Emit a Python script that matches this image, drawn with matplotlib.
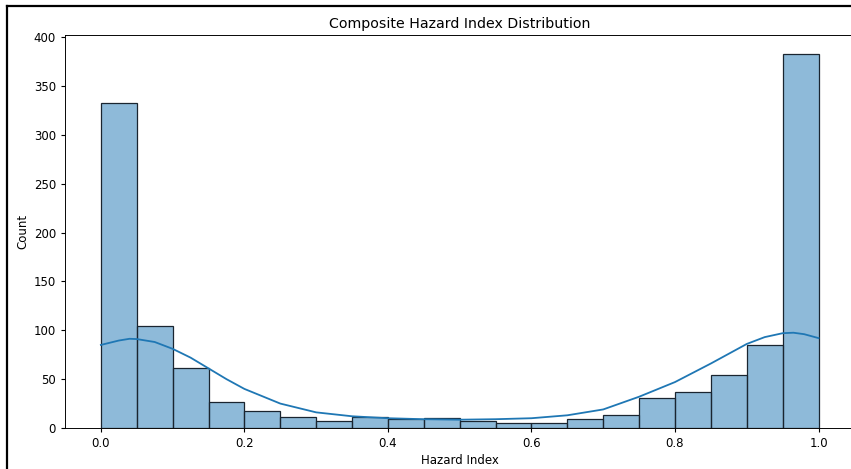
import numpy as np
import matplotlib
matplotlib.use("Agg")
import matplotlib.pyplot as plt
from matplotlib.lines import Line2D
import seaborn as sns

# Bin edges (20 bins on 0..1) and counts
bin_edges = [0.0, 0.05, 0.10, 0.15, 0.20, 0.25, 0.30, 0.35, 0.40, 0.45, 0.50,
             0.55, 0.60, 0.65, 0.70, 0.75, 0.80, 0.85, 0.90, 0.95, 1.0]
bin_centers = [0.025, 0.075, 0.125, 0.175, 0.225, 0.275, 0.325, 0.375, 0.425, 0.475,
               0.525, 0.575, 0.625, 0.675, 0.725, 0.775, 0.825, 0.875, 0.925, 0.975]
counts = [333, 104, 61, 27, 17, 11, 7, 11, 9, 10,
          7, 5, 5, 9, 13, 31, 37, 54, 85, 383]

# KDE line
kde_x = [0.0, 0.025, 0.04, 0.05, 0.075, 0.10, 0.125, 0.15, 0.175, 0.20, 0.25, 0.30,
         0.35, 0.40, 0.45, 0.50, 0.55, 0.60, 0.65, 0.70, 0.75, 0.80, 0.85,
         0.875, 0.90, 0.925, 0.95, 0.965, 0.98, 1.0]
kde_y = [85, 89.5, 91.3, 91, 88, 81, 72, 61, 50, 40, 25, 16,
         12, 10, 9, 8.5, 9, 10, 13, 19, 32, 47, 66,
         76, 86, 93, 97, 97.5, 96, 92]

# the reference looks like a slightly shrunk screenshot, so scale text/lines down
s = 0.85
plt.rcParams.update({
    "font.size": 10 * s,
    "axes.titlesize": 12 * s,
    "axes.labelsize": 10 * s,
    "xtick.labelsize": 10 * s,
    "ytick.labelsize": 10 * s,
    "xtick.major.size": 3.5 * s,
    "ytick.major.size": 3.5 * s,
    "axes.linewidth": 0.8 * s,
    "patch.linewidth": 1.0 * s,
})

fig = plt.figure(figsize=(8.51, 4.69), dpi=100)
W, H = 851, 469
# axes placed in pixels: left 65, right ~854 (cropped), top 35, bottom 428
ax = fig.add_axes([65 / W, (H - 428) / H, (854.4 - 65) / W, (428 - 35) / H])

sns.histplot(x=bin_centers, weights=counts, bins=bin_edges, ax=ax,
             color="C0", alpha=0.5, edgecolor="#1a2530", linewidth=0.9)
ax.plot(kde_x, kde_y, color="C0", linewidth=1.3)

ax.set_xlim(-0.05, 1.05)
ax.set_ylim(0, max(counts) * 1.05)
ax.set_title("Composite Hazard Index Distribution", pad=5)
ax.set_xlabel("Hazard Index", labelpad=3)
ax.set_ylabel("Count", labelpad=3)

# screenshot frame on left and top edges
fig.add_artist(Line2D([7 / W, 7 / W], [0, 1 - 6 / H], color="black", linewidth=1.6))
fig.add_artist(Line2D([7 / W, 1], [1 - 6.5 / H, 1 - 6.5 / H], color="black", linewidth=1.6))

fig.savefig("out.png", dpi=100)
